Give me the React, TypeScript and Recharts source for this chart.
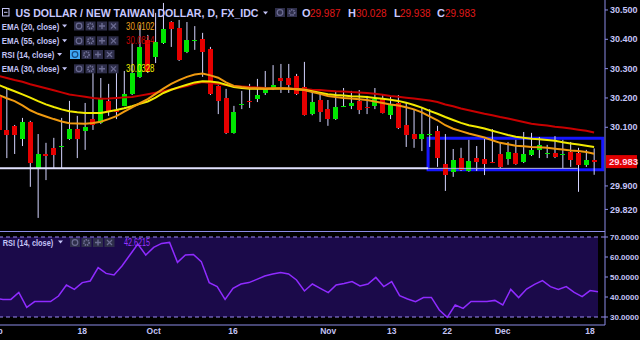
import { ComposedChart, Bar, Line, XAxis, YAxis, ReferenceArea, ReferenceLine } from "recharts";

const FONT = "'Liberation Sans', Arial, sans-serif";
const AXIS = "#8c8ce6";
const TXT = "#c4c4f6";
const RED = "#e60000";
const GREEN = "#00e600";
const WICK = "#d4d4ff";

// trading days, Sep 3 .. Dec 19
const dates = [
  "Sep 3", "Sep 4", "Sep 5", "Sep 6", "Sep 7", "Sep 10", "Sep 11", "Sep 12", "Sep 13", "Sep 14",
  "Sep 17", "Sep 18", "Sep 19", "Sep 20", "Sep 21", "Sep 24", "Sep 25", "Sep 26", "Sep 27", "Sep 28",
  "Oct 1", "Oct 2", "Oct 3", "Oct 4", "Oct 5", "Oct 8", "Oct 9", "Oct 11", "Oct 12", "Oct 15",
  "Oct 16", "Oct 17", "Oct 18", "Oct 19", "Oct 22", "Oct 23", "Oct 24", "Oct 25", "Oct 26", "Oct 29",
  "Oct 30", "Oct 31", "Nov 1", "Nov 2", "Nov 5", "Nov 6", "Nov 7", "Nov 8", "Nov 9", "Nov 12",
  "Nov 13", "Nov 14", "Nov 15", "Nov 16", "Nov 19", "Nov 20", "Nov 21", "Nov 22", "Nov 23", "Nov 26",
  "Nov 27", "Nov 28", "Nov 29", "Nov 30", "Dec 3", "Dec 4", "Dec 5", "Dec 6", "Dec 7", "Dec 10",
  "Dec 11", "Dec 12", "Dec 13", "Dec 14", "Dec 17", "Dec 18", "Dec 19",
];

const open = [
  30.203, 30.091, 30.105, 30.06, 30.118, 29.961, 30.009, 30.03, 30.035, 30.06,
  30.094, 30.087, 30.128, 30.115, 30.19, 30.159, 30.173, 30.214, 30.272, 30.398,
  30.34, 30.387, 30.459, 30.439, 30.357, 30.397, 30.401, 30.367, 30.241, 30.2,
  30.081, 30.179, 30.191, 30.197, 30.217, 30.231, 30.268, 30.268, 30.275, 30.237,
  30.145, 30.193, 30.162, 30.128, 30.172, 30.173, 30.19, 30.17, 30.173, 30.2,
  30.142, 30.183, 30.108, 30.077, 30.06, 30.076, 30.087, 29.975, 29.948, 29.995,
  29.951, 29.995, 29.992, 29.983, 30.009, 29.992, 30.012, 29.982, 30.006, 30.023,
  30.011, 30.012, 30.008, 30.016, 30.012, 29.972, 29.987,
];
const high = [
  30.207, 30.234, 30.108, 30.132, 30.122, 30.077, 30.047, 30.064, 30.132, 30.19,
  30.139, 30.183, 30.292, 30.268, 30.248, 30.285, 30.292, 30.387, 30.449, 30.415,
  30.49, 30.524, 30.462, 30.466, 30.459, 30.445, 30.422, 30.374, 30.243, 30.231,
  30.173, 30.224, 30.248, 30.265, 30.292, 30.312, 30.316, 30.316, 30.282, 30.323,
  30.224, 30.217, 30.193, 30.224, 30.234, 30.224, 30.227, 30.207, 30.234, 30.21,
  30.207, 30.21, 30.183, 30.159, 30.166, 30.162, 30.105, 30.077, 30.026, 30.03,
  30.057, 30.036, 30.06, 30.094, 30.05, 30.05, 30.057, 30.084, 30.081, 30.067,
  30.04, 30.07, 30.057, 30.05, 30.03, 30.023, 30.028,
];
const low = [
  30.087, 29.995, 30.009, 30.036, 29.897, 29.791, 29.92, 29.961, 29.961, 30.057,
  29.995, 30.023, 30.091, 30.111, 30.139, 30.128, 30.172, 30.21, 30.268, 30.285,
  30.319, 30.384, 30.374, 30.326, 30.353, 30.364, 30.272, 30.21, 30.145, 30.077,
  30.078, 30.162, 30.166, 30.186, 30.21, 30.227, 30.217, 30.217, 30.21, 30.14,
  30.141, 30.118, 30.105, 30.125, 30.169, 30.162, 30.145, 30.145, 30.162, 30.147,
  30.128, 30.094, 30.033, 30.03, 30.019, 30.033, 29.965, 29.883, 29.931, 29.951,
  29.948, 29.951, 29.937, 29.978, 29.961, 29.972, 29.972, 29.978, 30.002, 29.995,
  29.995, 29.995, 29.961, 29.965, 29.88, 29.965, 29.938,
];
const close = [
  30.091, 30.074, 30.074, 30.118, 29.978, 30.009, 30.002, 30.006, 30.037, 30.094,
  30.06, 30.101, 30.108, 30.197, 30.156, 30.152, 30.214, 30.285, 30.374, 30.289,
  30.391, 30.435, 30.435, 30.33, 30.398, 30.399, 30.357, 30.214, 30.19, 30.081,
  30.152, 30.181, 30.189, 30.21, 30.234, 30.244, 30.258, 30.244, 30.214, 30.142,
  30.186, 30.152, 30.128, 30.169, 30.174, 30.183, 30.159, 30.168, 30.197, 30.149,
  30.176, 30.098, 30.074, 30.06, 30.077, 30.078, 29.995, 29.937, 29.989, 29.955,
  29.985, 29.982, 29.975, 29.981, 29.965, 30.016, 29.975, 30.009, 30.023, 30.04,
  30.013, 29.999, 30.01, 29.989, 29.972, 29.989, 29.983,
];

const ema20 = [
  30.21, 30.199, 30.189, 30.175, 30.158, 30.146, 30.137, 30.128, 30.12, 30.114,
  30.113, 30.112, 30.115, 30.119, 30.128, 30.138, 30.153, 30.168, 30.182, 30.196,
  30.214, 30.232, 30.248, 30.261, 30.272, 30.28, 30.283, 30.277, 30.269, 30.253,
  30.241, 30.237, 30.234, 30.233, 30.231, 30.231, 30.232, 30.232, 30.23, 30.227,
  30.22, 30.214, 30.207, 30.203, 30.2, 30.198, 30.196, 30.193, 30.188, 30.183,
  30.178, 30.174, 30.168, 30.161, 30.151, 30.137, 30.124, 30.107, 30.095, 30.087,
  30.079, 30.072, 30.065, 30.056, 30.047, 30.042, 30.037, 30.035, 30.033, 30.032,
  30.03, 30.027, 30.024, 30.021, 30.019, 30.016, 30.01,
];
const ema30 = [
  30.244, 30.233, 30.223, 30.212, 30.201, 30.189, 30.178, 30.169, 30.161, 30.155,
  30.151, 30.149, 30.149, 30.149, 30.154, 30.159, 30.165, 30.172, 30.18, 30.188,
  30.201, 30.217, 30.228, 30.237, 30.245, 30.253, 30.257, 30.256, 30.253, 30.245,
  30.237, 30.234, 30.231, 30.231, 30.231, 30.232, 30.232, 30.231, 30.23, 30.228,
  30.223, 30.218, 30.213, 30.21, 30.208, 30.206, 30.205, 30.203, 30.2, 30.197,
  30.194, 30.19, 30.184, 30.176, 30.167, 30.156, 30.146, 30.135, 30.125, 30.115,
  30.107, 30.102, 30.096, 30.088, 30.081, 30.074, 30.068, 30.064, 30.061, 30.059,
  30.057, 30.054, 30.049, 30.045, 30.041, 30.037, 30.033,
];
const ema55 = [
  30.275, 30.268, 30.261, 30.255, 30.247, 30.24, 30.233, 30.226, 30.219, 30.212,
  30.208, 30.204, 30.2, 30.197, 30.198, 30.2, 30.202, 30.203, 30.208, 30.213,
  30.218, 30.223, 30.229, 30.235, 30.241, 30.248, 30.254, 30.251, 30.248, 30.244,
  30.241, 30.239, 30.237, 30.236, 30.234, 30.233, 30.233, 30.232, 30.231, 30.23,
  30.228, 30.227, 30.225, 30.223, 30.222, 30.22, 30.219, 30.217, 30.214, 30.211,
  30.207, 30.204, 30.201, 30.198, 30.195, 30.191, 30.186, 30.178, 30.172, 30.164,
  30.158, 30.152, 30.146, 30.141, 30.135, 30.13, 30.124, 30.118, 30.112, 30.109,
  30.106, 30.102, 30.099, 30.096, 30.092, 30.088, 30.082,
];
const rsi = [
  39.3, 38.8, 38.8, 42.3, 34.8, 37.7, 37.7, 37.7, 40.5, 46,
  43.8, 47.2, 48, 54.7, 51.8, 51, 55.5, 61, 66.5, 61,
  64.8, 66.8, 67.3, 57.3, 61, 61.3, 57.7, 47.2, 45.2, 38.8,
  44.3, 46.5, 47.2, 48.8, 50.5, 51.5, 52.3, 51.5, 48.5, 43,
  46.5, 44.3, 42.2, 46, 46.8, 47.7, 45.5, 46.5, 49.8, 45.2,
  47.7, 40.7, 39, 37.7, 39.7, 39.8, 33.5, 29.8, 36, 34.3,
  37.8, 37.8, 37.8, 38.3, 36, 43.8, 39.7, 44, 46.3, 48.2,
  45.2, 43.8, 45.2, 42.3, 40.2, 43.2, 42.6,
];

const tickDates = ["Sep 3", "Sep 18", "Oct 1", "Oct 16", "Nov 1", "Nov 13", "Nov 22", "Dec 3", "Dec 18"];
const tickLabels = ["Sep", "18", "Oct", "16", "Nov", "13", "22", "Dec", "18"];
// 30.000 sits under the last-price badge, so it is left out
const priceTicks = [29.82, 29.9, 30.1, 30.2, 30.3, 30.4, 30.5];
const rsiTicks = [30, 40, 50, 60, 70];
const legendValues = ["30.0102", "30.0814", "30.0328", "42.6215"];

// drawings on the chart: support line and the range box (bar index / price)
const supportLevel = 29.96;
const box = { from: 54.8, to: 77.1, top: 30.063, bottom: 29.955, innerEnd: 73.9 };

const rows = dates.map((date, i) => ({
  date,
  idx: i,
  open: open[i],
  high: high[i],
  low: low[i],
  close: close[i],
  ema20: ema20[i],
  ema30: ema30[i],
  ema55: ema55[i],
  rsi: rsi[i],
}));

const last = close[close.length - 1];

const Candle = (props: any) => {
  const { x, y, width, height, payload } = props;
  if (!payload || height == null) return <g />;
  const top = Math.min(y, y + height);
  const h = Math.abs(height);
  const k = h / (payload.high - payload.low);
  const cx = x + width / 2;
  const bTop = top + (payload.high - Math.max(payload.open, payload.close)) * k;
  const bBot = top + (payload.high - Math.min(payload.open, payload.close)) * k;
  const up = payload.close >= payload.open;
  return (
    <g>
      <line x1={cx} x2={cx} y1={top} y2={top + h} stroke={WICK} strokeWidth={1} />
      <rect
        x={cx - 2.5}
        y={bTop}
        width={5}
        height={Math.max(bBot - bTop, 1.5)}
        fill={up ? GREEN : RED}
        shapeRendering="crispEdges"
      />
    </g>
  );
};

const PriceBadge = (props: any) => {
  const vb = props.viewBox;
  if (!vb) return <g />;
  const x = vb.x + vb.width + 1;
  return (
    <g>
      <rect x={x} y={vb.y - 6.5} width={31} height={13} fill="#e00000" />
      <text x={x + 3} y={vb.y + 3.5} fontSize={9.5} fontWeight={700} fill="#ffd6e6" fontFamily={FONT}>
        {last.toFixed(3)}
      </text>
    </g>
  );
};

const DateTick = (props: any) => {
  const { x, y, payload } = props;
  const k = tickDates.indexOf(payload.value);
  if (k < 0) return <g />;
  return (
    <text x={x} y={y + 9} textAnchor="middle" fontSize={8.5} fontWeight={700} fill={TXT} fontFamily={FONT}>
      {tickLabels[k]}
    </text>
  );
};

const IconBox = ({ x, y, kind, active }: { x: number; y: number; kind: string; active?: boolean }) => {
  const g = active ? "#174a80" : "#6c6c92";
  const cx = x + 5;
  const cy = y + 4.5;
  return (
    <g>
      <rect x={x} y={y} width={10} height={9} fill={active ? "#3fa6f2" : "#2e2e4a"} />
      {kind === "eye" && <circle cx={cx} cy={cy} r={2.8} fill="none" stroke={g} strokeWidth={1.2} />}
      {kind === "gear" && <circle cx={cx} cy={cy} r={2.6} fill="none" stroke={g} strokeWidth={1.8} strokeDasharray="1.4 0.8" />}
      {kind === "plus" && (
        <path d={`M${cx - 3} ${cy}H${cx + 3}M${cx} ${cy - 3}V${cy + 3}`} stroke={g} strokeWidth={1.4} />
      )}
      {kind === "x" && (
        <path d={`M${cx - 2.5} ${cy - 2.5}L${cx + 2.5} ${cy + 2.5}M${cx + 2.5} ${cy - 2.5}L${cx - 2.5} ${cy + 2.5}`} stroke={g} strokeWidth={1.2} />
      )}
    </g>
  );
};

const Caret = ({ x, y }: { x: number; y: number }) => (
  <polygon points={`${x},${y} ${x + 5},${y} ${x + 2.5},${y + 3}`} fill={TXT} />
);

const LegendRow = ({ label, y, len, iconX, value, color, activeFirst }: any) => (
  <g>
    <text x={1.7} y={y} fontSize={9.5} fontWeight={700} fill={TXT} fontFamily={FONT} textLength={len} lengthAdjust="spacingAndGlyphs">
      {label}
    </text>
    <Caret x={len + 4.5} y={y - 5} />
    {["eye", "gear", "plus", "x"].map((k, i) => (
      <IconBox key={k} x={iconX + i * 11.5} y={y - 8} kind={k} active={activeFirst && i === 0} />
    ))}
    {value && (
      <text x={126} y={y} fontSize={10} fill={color} fontFamily={FONT} textLength={28.5} lengthAdjust="spacingAndGlyphs">
        {value}
      </text>
    )}
  </g>
);

const Overlay = () => (
  <svg width={640} height={340} style={{ position: "absolute", left: 0, top: 0, pointerEvents: "none" }}>
    <line x1={0} x2={605} y1={231.5} y2={231.5} stroke={AXIS} strokeWidth={1} />
    <rect x={2.5} y={8.5} width={6.5} height={7.5} fill="none" stroke={TXT} strokeWidth={1} />
    <line x1={4} x2={7.5} y1={12.3} y2={12.3} stroke={TXT} strokeWidth={1} />
    <text x={15.5} y={16.7} fontSize={11.5} fontWeight={700} fill="#c8c8ff" fontFamily={FONT} textLength={243} lengthAdjust="spacingAndGlyphs">
      US DOLLAR / NEW TAIWAN DOLLAR, D, FX_IDC
    </text>
    <Caret x={263} y={11.5} />
    <IconBox x={275} y={8} kind="eye" />
    <IconBox x={287} y={8} kind="gear" />
    {[
      ["O", "29.987", 302, 310],
      ["H", "30.028", 348, 356],
      ["L", "29.938", 394, 400],
      ["C", "29.983", 437, 445],
    ].map(([k, v, lx, vx]) => (
      <g key={k as string}>
        <text x={lx as number} y={16.7} fontSize={11} fontWeight={700} fill="#c8c8ff" fontFamily={FONT}>
          {k}
        </text>
        <text x={vx as number} y={16.7} fontSize={11} fill="#e01818" fontFamily={FONT} textLength={30.5} lengthAdjust="spacingAndGlyphs">
          {v}
        </text>
      </g>
    ))}
    <LegendRow label="EMA (20, close)" y={29.5} len={57.6} iconX={74} value={legendValues[0]} color="#eea21c" />
    <LegendRow label="EMA (55, close)" y={44.3} len={57.6} iconX={74} value={legendValues[1]} color="#c40000" />
    <LegendRow label="RSI (14, close)" y={58} len={52.6} iconX={70} activeFirst />
    <LegendRow label="EMA (30, close)" y={72.3} len={57.6} iconX={74} value={legendValues[2]} color="#f0f000" />
    <g>
      <text x={2.7} y={245.5} fontSize={9.5} fontWeight={700} fill={TXT} fontFamily={FONT} textLength={50.6} lengthAdjust="spacingAndGlyphs">
        RSI (14, close)
      </text>
      <Caret x={58} y={240.5} />
      {["eye", "gear", "plus", "x"].map((k, i) => (
        <IconBox key={k} x={70 + i * 11.5} y={238} kind={k} />
      ))}
      <text x={124} y={245.5} fontSize={10} fill="#9a34ff" fontFamily={FONT} textLength={26} lengthAdjust="spacingAndGlyphs">
        {legendValues[3]}
      </text>
    </g>
  </svg>
);

const yTick = { fill: TXT, fontSize: 9, fontWeight: 700, fontFamily: FONT };

export default function App() {
  return (
    <div style={{ position: "absolute", left: 0, top: 0, width: 640, height: 340, overflow: "hidden", background: "#000" }}>
      <div style={{ position: "absolute", left: -5, top: 0 }}>
        <ComposedChart width={645} height={231} data={rows} margin={{ top: 0, right: 0, bottom: 0, left: 0 }} barCategoryGap={0}>
          <XAxis dataKey="date" hide padding={{ left: 0, right: 7 }} />
          <XAxis xAxisId="n" dataKey="idx" type="number" hide domain={[-0.5, 77.39]} allowDataOverflow />
          <YAxis
            orientation="right"
            width={35}
            domain={[29.7464, 30.534]}
            ticks={priceTicks}
            interval={0}
            allowDataOverflow
            axisLine={{ stroke: AXIS }}
            tickLine={{ stroke: AXIS }}
            tickSize={3}
            tickMargin={2}
            tick={yTick}
            tickFormatter={(v: number) => v.toFixed(3)}
          />
          <Line dataKey="ema55" stroke="#c80000" strokeWidth={2} dot={false} activeDot={false} isAnimationActive={false} />
          <Line dataKey="ema30" stroke="#f2ea00" strokeWidth={2} dot={false} activeDot={false} isAnimationActive={false} />
          <Line dataKey="ema20" stroke="#f09a10" strokeWidth={2} dot={false} activeDot={false} isAnimationActive={false} />
          <ReferenceLine
            xAxisId="n"
            segment={[{ x: -0.5, y: supportLevel }, { x: box.from, y: supportLevel }]}
            stroke="#e2e2ff"
            strokeWidth={2}
          />
          <ReferenceLine
            xAxisId="n"
            segment={[{ x: box.from, y: supportLevel }, { x: box.innerEnd, y: supportLevel }]}
            stroke="#b8b8d8"
            strokeWidth={1}
          />
          <Bar dataKey={(d: any) => [d.low, d.high]} shape={<Candle />} activeBar={false} isAnimationActive={false} />
          <ReferenceArea
            xAxisId="n"
            x1={box.from}
            x2={box.to}
            y1={box.bottom}
            y2={box.top}
            fill="none"
            fillOpacity={0}
            stroke="#1616ff"
            strokeWidth={3}
            ifOverflow="visible"
          />
          <ReferenceLine y={last} stroke="none" label={(p: any) => <PriceBadge {...p} />} />
        </ComposedChart>
      </div>
      <div style={{ position: "absolute", left: -5, top: 231 }}>
        <ComposedChart width={645} height={109} data={rows} margin={{ top: 0, right: 0, bottom: 0, left: 0 }}>
          <XAxis
            dataKey="date"
            padding={{ left: 0, right: 7 }}
            interval={0}
            height={15}
            tickLine={false}
            tickSize={0}
            tickMargin={0}
            axisLine={{ stroke: AXIS }}
            tick={(p: any) => <DateTick {...p} />}
          />
          <YAxis
            orientation="right"
            width={35}
            domain={[26, 73]}
            ticks={rsiTicks}
            interval={0}
            axisLine={{ stroke: AXIS }}
            tickLine={{ stroke: AXIS }}
            tickSize={3}
            tickMargin={2}
            tick={{ ...yTick, fontSize: 8 }}
            tickFormatter={(v: number) => v.toFixed(4)}
          />
          <ReferenceArea y1={30} y2={70} fill="#1b0a4a" fillOpacity={1} stroke="none" />
          <ReferenceLine y={70} stroke="#9a8af2" strokeDasharray="4 3" strokeWidth={1.2} />
          <ReferenceLine y={30} stroke="#9a8af2" strokeDasharray="4 3" strokeWidth={1.2} />
          <Line dataKey="rsi" stroke="#8f2bff" strokeWidth={1.5} dot={false} activeDot={false} isAnimationActive={false} />
        </ComposedChart>
      </div>
      <Overlay />
    </div>
  );
}
